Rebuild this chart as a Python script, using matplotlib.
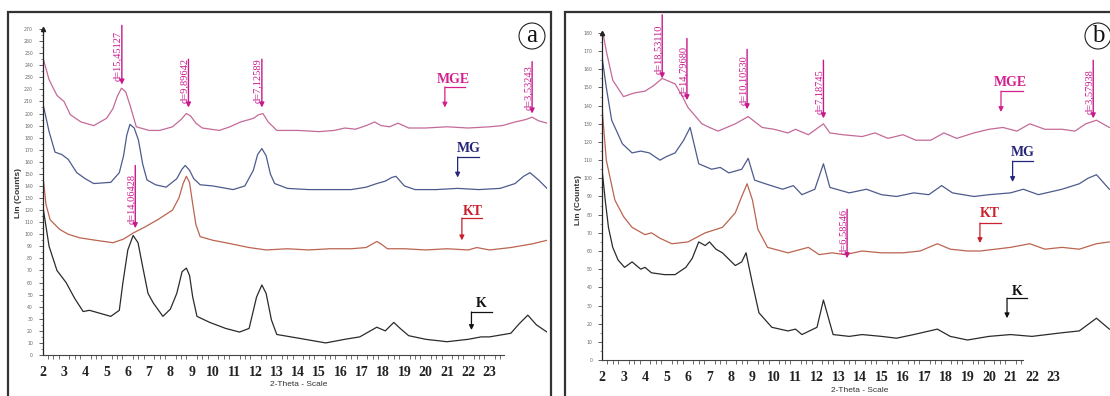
import numpy as np
import matplotlib
matplotlib.use("Agg")
import matplotlib.pyplot as plt
from matplotlib.patches import Rectangle
from matplotlib.ticker import FixedLocator, MultipleLocator
from matplotlib.transforms import offset_copy

# ---- panel (a) data ----
a_mge_x = [2.0, 2.3, 2.67, 3.0, 3.3, 3.8, 4.4, 5.0, 5.3, 5.5, 5.7, 5.9, 6.1, 6.4, 7.0, 7.5, 8.1, 8.5, 8.75,
           8.95, 9.2, 9.5, 10.3, 10.8, 11.3, 11.9, 12.15, 12.35, 12.6, 13.0, 14.0, 15.0, 15.7, 16.2, 16.7,
           17.2, 17.6, 17.9, 18.3, 18.7, 19.2, 20.0, 21.0, 22.0, 23.0, 23.6, 24.2, 24.7, 25.0, 25.3, 25.7]
a_mge_y = [247, 228, 215, 210, 199, 193, 190, 196, 204, 214, 221, 218, 207, 189, 186, 186, 189, 195, 200,
           198, 192, 188, 186, 189, 193, 196, 199, 200, 193, 186, 186, 185, 186, 188, 187,
           190, 193, 190, 189, 192, 188, 188, 189, 188, 189, 190, 193, 195, 197, 194, 192]

a_mg_x = [2.0, 2.3, 2.58, 2.9, 3.2, 3.6, 4.0, 4.4, 5.2, 5.6, 5.8, 5.95, 6.1, 6.3, 6.5, 6.7, 6.9, 7.3, 7.8,
          8.3, 8.55, 8.7, 8.9, 9.1, 9.4, 10.0, 10.95, 11.5, 11.9, 12.1, 12.3, 12.5, 12.7, 12.9, 13.5,
          14.5, 15.5, 16.5, 17.2, 17.7, 18.1, 18.4, 18.6, 18.8, 19.0, 19.5, 20.5, 21.5, 22.5, 23.5,
          24.2, 24.6, 24.9, 25.3, 25.7]
a_mg_y = [209, 185, 168, 166, 162, 151, 146, 142, 143, 151, 165, 182, 191, 188, 178, 158, 145, 141, 139,
          146, 154, 157, 153, 146, 141, 140, 137, 140, 153, 166, 171, 165, 150, 142, 138,
          137, 137, 137, 139, 142, 144, 147, 148, 144, 140, 137, 137, 138, 137, 138,
          142, 148, 151, 145, 138]

a_kt_x = [2.0, 2.15, 2.35, 2.8, 3.2, 3.75, 4.5, 5.3, 5.8, 6.25, 6.8, 7.4, 8.1, 8.4, 8.6, 8.75, 8.9, 9.05,
          9.2, 9.4, 10.0, 10.6, 11.7, 12.5, 13.5, 14.5, 15.5, 16.5, 17.2, 17.5, 17.7, 17.9, 18.2, 19.0,
          20.0, 21.0, 22.0, 22.4, 23.0, 24.0, 25.0, 25.7]
a_kt_y = [151, 125, 112, 104, 100, 97, 95, 93, 96, 101, 106, 112, 120, 130, 142, 148, 143, 125,
          108, 98, 95, 93, 89, 87, 88, 87, 88, 88, 89, 92, 94, 92, 88, 88,
          87, 88, 87, 89, 87, 89, 92, 95]

a_k_x = [2.0, 2.3, 2.67, 3.1, 3.5, 3.9, 4.2, 4.6, 5.2, 5.6, 5.77, 6.0, 6.25, 6.48, 6.7, 6.95, 7.2, 7.65,
         8.0, 8.3, 8.55, 8.75, 8.9, 9.05, 9.25, 9.85, 10.6, 11.25, 11.7, 12.05, 12.3, 12.5, 12.75, 13.0,
         14.0, 15.3, 16.2, 16.9, 17.4, 17.7, 18.1, 18.5, 18.8, 19.2, 20.0, 21.0, 22.0, 22.6, 23.0, 24.0,
         24.4, 24.8, 25.2, 25.7]
a_k_y = [124, 90, 70, 60, 47, 36, 37, 35, 32, 37, 60, 87, 99, 93, 73, 51, 43, 32,
         38, 51, 69, 72, 66, 48, 32, 27, 22, 19, 22, 48, 58, 51, 29, 17,
         14, 10, 13, 15, 20, 23, 20, 27, 22, 16, 13, 11, 13, 15, 15, 18,
         26, 33, 25, 19]

# ---- panel (b) data ----
b_mge_x = [2.0, 2.2, 2.5, 3.0, 3.5, 4.0, 4.4, 4.8, 5.4, 5.7, 6.0, 6.65, 7.0, 7.4, 8.2, 8.8, 9.45, 10.0,
           10.65, 11.0, 11.6, 12.3, 12.6, 13.2, 14.1, 14.7, 15.3, 16.0, 16.6, 17.3, 17.9, 18.5, 19.3, 20.0,
           20.65, 21.3, 21.9, 22.6, 23.4, 24.0, 24.5, 25.0, 25.6]
b_mge_y = [183, 170, 154, 145, 147, 148, 151, 155, 152, 146, 139, 130, 128, 126, 130, 134, 128, 127,
           125, 127, 124, 130, 125, 124, 123, 125, 122, 124, 121, 121, 125, 122, 125, 127,
           128, 126, 130, 127, 127, 126, 130, 132, 128]

b_mg_x = [2.0, 2.2, 2.45, 2.95, 3.4, 3.8, 4.2, 4.7, 5.0, 5.4, 5.8, 6.1, 6.3, 6.5, 7.1, 7.5, 7.9, 8.5, 8.8,
          9.1, 9.6, 10.4, 10.9, 11.3, 11.9, 12.3, 12.6, 13.5, 14.3, 15.0, 15.7, 16.5, 17.2, 17.8, 18.3,
          19.3, 20.0, 21.0, 21.6, 22.3, 23.4, 24.2, 24.6, 25.0, 25.6]
b_mg_y = [167, 150, 132, 119, 114, 115, 114, 110, 112, 114, 121, 128, 118, 108, 105, 106, 103, 105, 111,
          99, 97, 94, 96, 91, 94, 108, 95, 92, 94, 91, 90, 92, 91, 96, 92,
          90, 91, 92, 94, 91, 94, 97, 100, 102, 94]

b_kt_x = [2.0, 2.2, 2.6, 3.0, 3.4, 4.0, 4.3, 4.7, 5.25, 6.0, 6.8, 7.6, 8.2, 8.5, 8.75, 9.0, 9.25, 9.7,
          10.65, 11.6, 12.1, 12.7, 13.3, 14.1, 15.0, 16.0, 16.8, 17.6, 18.2, 19.0, 19.6, 20.3, 21.0, 21.9,
          22.6, 23.4, 24.2, 25.0, 25.6]
b_kt_y = [139, 110, 88, 79, 73, 69, 70, 67, 64, 65, 70, 73, 81, 90, 97, 88, 72, 62,
          59, 62, 58, 59, 58, 60, 59, 59, 60, 64, 61, 60, 60, 61, 62, 64,
          61, 62, 61, 64, 65]

b_k_x = [2.0, 2.15, 2.3, 2.5, 2.75, 3.05, 3.4, 3.8, 4.0, 4.3, 4.9, 5.4, 5.9, 6.2, 6.5, 6.8, 7.0, 7.3, 7.6,
         8.2, 8.5, 8.7, 9.0, 9.3, 9.9, 10.65, 11.0, 11.3, 12.0, 12.3, 12.75, 13.5, 14.1, 15.0, 15.7, 16.5,
         17.6, 18.2, 19.0, 20.0, 21.0, 22.0, 23.4, 24.2, 25.0, 25.6]
b_k_y = [105, 88, 73, 62, 55, 51, 54, 50, 51, 48, 47, 47, 51, 56, 65, 63, 65, 61, 59,
         52, 54, 59, 42, 26, 18, 16, 17, 14, 18, 33, 14, 13, 14, 13, 12, 14,
         17, 13, 11, 13, 14, 13, 15, 16, 23, 17]

# d-spacing labels: (text, 2theta, line top, arrow tip)
a_dlabels = [("d=15,45127", 5.72, 273, 224), ("d=9,89642", 8.85, 245, 205),
             ("d=7,12589", 12.3, 245, 205), ("d=14,06428", 6.35, 157, 105),
             ("d=3,53243", 25.0, 243, 200)]
b_dlabels = [("d=18,53110", 4.8, 190, 155), ("d=14,79680", 5.95, 177, 143),
             ("d=10,10530", 8.75, 171, 138), ("d=7,18745", 12.3, 165, 133),
             ("d=3,57938", 24.85, 165, 133), ("d=6,58546", 13.4, 83, 56)]

# sample labels: (name, colour, text x, text y, line x0, line x1, line y, arrow tip)
a_samples = [("MGE", "#d4208c", 21.3, 228, 20.9, 21.85, 222, 205),
             ("MG", "#25257a", 22.0, 171, 21.5, 22.5, 164, 147),
             ("KT", "#c8202c", 22.2, 119, 21.7, 22.65, 113.5, 95),
             ("K", "#111111", 22.6, 43, 22.15, 23.1, 35.6, 20.7)]
b_samples = [("MGE", "#d4208c", 21.0, 153, 20.56, 21.58, 148, 136.5),
             ("MG", "#25257a", 21.55, 114, 21.1, 22.05, 109.5, 98),
             ("KT", "#c8202c", 20.05, 80.5, 19.58, 20.56, 75.4, 64.4),
             ("K", "#111111", 21.3, 37.5, 20.84, 21.77, 34, 23)]

line_colors = {"MGE": "#c46a98", "MG": "#4d5b8c", "KT": "#bb6450", "K": "#2b2b2b"}
d_color = "#c8188c"

W, H = 1110, 396
fig = plt.figure(figsize=(W / 100, H / 100), dpi=100)
fig.patch.set_facecolor("white")


def px_axes(x0, y0, x1, y1):
    # pixel box (top-left origin) -> figure axes
    return fig.add_axes([x0 / W, 1 - y1 / H, (x1 - x0) / W, (y1 - y0) / H])


def draw_panel(ax, curves, ymax, xmax, xbound, dlabels, samples):
    for name, xs, ys in curves:
        ax.plot(xs, ys, color=line_colors[name], lw=0.9)
    ax.set_xlim(2, xmax)
    ax.set_ylim(0, ymax)
    for s in ["top", "right"]:
        ax.spines[s].set_visible(False)
    ax.spines["left"].set_color("#222222")
    ax.spines["bottom"].set_color("#444444")
    ax.spines["left"].set_linewidth(0.9)
    ax.spines["bottom"].set_linewidth(0.8)
    ax.spines["bottom"].set_bounds(2, xbound)
    ax.set_facecolor("none")

    ax.set_xticks(range(2, 24))
    ax.xaxis.set_minor_locator(FixedLocator(np.arange(2, xbound + 0.01, 0.25)))
    ax.tick_params(axis="x", which="major", length=0, pad=8)
    ax.tick_params(axis="x", which="minor", length=3, color="#555555", width=0.6)
    for lab in ax.get_xticklabels():
        lab.set_fontfamily("Liberation Serif")
        lab.set_fontweight("bold")
        lab.set_fontsize(10)
        lab.set_color("#222222")

    ax.yaxis.set_major_locator(MultipleLocator(10))
    ax.yaxis.set_minor_locator(MultipleLocator(5))
    ax.tick_params(axis="y", which="major", length=3, width=0.6, labelsize=3.3,
                   labelcolor="#666666", color="#444444", pad=4)
    ax.tick_params(axis="y", which="minor", length=1.5, width=0.5, color="#666666")
    ax.plot([2], [ymax], marker="^", color="#222222", markersize=3, clip_on=False)

    trans_text = offset_copy(ax.transData, fig=fig, x=-4, y=4, units="dots")
    for txt, x, top, tip in dlabels:
        ax.annotate("", xy=(x, tip), xytext=(x, top),
                    arrowprops=dict(arrowstyle="-|>", color=d_color, lw=1.0,
                                    mutation_scale=7, shrinkA=0, shrinkB=0),
                    annotation_clip=False)
        ax.text(x, tip, txt, rotation=90, ha="center", va="bottom", color=d_color,
                fontsize=7.5, family="Liberation Serif", transform=trans_text, clip_on=False)

    for name, col, tx, ty, x0, x1, ly, tip in samples:
        ax.text(tx, ty, name, color=col, fontsize=10, fontweight="bold",
                family="Liberation Serif", ha="center", va="center", clip_on=False)
        ax.plot([x0, x1], [ly, ly], color=col, lw=0.9, clip_on=False)
        ax.annotate("", xy=(x0, tip), xytext=(x0, ly),
                    arrowprops=dict(arrowstyle="-|>", color=col, lw=0.9,
                                    mutation_scale=7, shrinkA=0, shrinkB=0),
                    annotation_clip=False)


ax_a = px_axes(42.7, 29, 547, 355)
draw_panel(ax_a,
           [("MGE", a_mge_x, a_mge_y), ("MG", a_mg_x, a_mg_y),
            ("KT", a_kt_x, a_kt_y), ("K", a_k_x, a_k_y)],
           270, 25.7, 23.7, a_dlabels, a_samples)

ax_b = px_axes(602, 33, 1110, 360)
draw_panel(ax_b,
           [("MGE", b_mge_x, b_mge_y), ("MG", b_mg_x, b_mg_y),
            ("KT", b_kt_x, b_kt_y), ("K", b_k_x, b_k_y)],
           180, 25.63, 21.6, b_dlabels, b_samples)

# panel frames
for x0, x1 in [(8, 551), (565, 1114)]:
    fig.patches.append(Rectangle((x0 / W, -0.05), (x1 - x0) / W, 1 - 12 / H + 0.05,
                                 transform=fig.transFigure, fill=False,
                                 ec="#333333", lw=1.6, zorder=0))

# axis titles
fig.text(18 / W, 1 - 193 / H, "Lin (Counts)", rotation=90, ha="center", va="center",
         fontsize=6, fontweight="bold", family="Liberation Sans", color="#333333")
fig.text(578 / W, 1 - 200 / H, "Lin (Counts)", rotation=90, ha="center", va="center",
         fontsize=6, fontweight="bold", family="Liberation Sans", color="#333333")
fig.text(299 / W, 1 - 385 / H, "2-Theta - Scale", ha="center", va="center",
         fontsize=6, family="Liberation Sans", color="#333333")
fig.text(860 / W, 1 - 390 / H, "2-Theta - Scale", ha="center", va="center",
         fontsize=6, family="Liberation Sans", color="#333333")

# circled panel letters
for cx, letter in [(532, "a"), (1098, "b")]:
    fig.text(cx / W, 1 - 36 / H, letter, ha="center", va="center", fontsize=18,
             family="Liberation Serif", color="#111111",
             bbox=dict(boxstyle="circle,pad=0.08", fc="white", ec="#222222", lw=0.8))

fig.savefig("out.png", dpi=100, facecolor="white")
